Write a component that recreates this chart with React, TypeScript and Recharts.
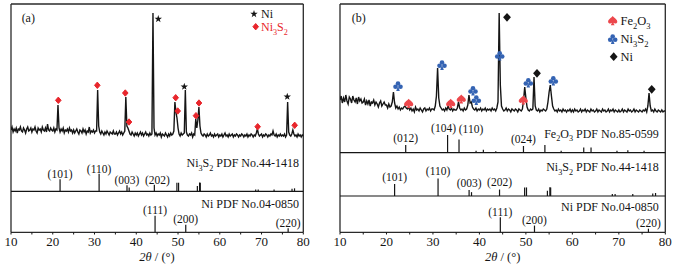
import React from 'react';
import { ComposedChart, Line, Scatter, XAxis, YAxis, ReferenceLine } from 'recharts';

const FONT = '"Liberation Serif", "Times New Roman", serif';
const INK = '#151515';
const RED_A = '#e8262c';
const RED_B = '#ec474c';
const BLUE = '#3463b3';

// measured patterns, intensity (a.u.) every 0.25° of 2θ from 10° to 80°
const ANGLE_START = 10;
const ANGLE_STEP = 0.25;

const patternA = [
  10, 13, 8, 11, 9, 12, 7, 11, 10, 13, 9, 8, 12, 10, 7, 11, 13, 9, 10, 12, // 10°
  8, 11, 10, 13, 9, 7, 12, 10, 11, 8, 13, 10, 9, 12, 8, 16, 10, 9, 12, 10, // 15°
  9, 12, 8, 11, 10, 35, 12, 8, 11, 9, 12, 7, 10, 9, 11, 8, 12, 9, 10, 7, // 20°
  10, 7, 9, 11, 8, 6, 10, 9, 7, 11, 8, 10, 6, 9, 8, 13, 7, 9, 8, 10, // 25°
  7, 9, 9, 50, 14, 8, 6, 9, 7, 5, 8, 6, 9, 7, 5, 8, 7, 6, 9, 6, // 30°
  6, 8, 5, 7, 9, 6, 8, 5, 7, 9, 43, 14, 12, 9, 6, 5, 8, 6, 4, 7, // 35°
  5, 7, 4, 6, 8, 5, 7, 4, 6, 8, 5, 6, 4, 7, 5, 6, 127, 12, 5, 7, // 40°
  4, 6, 5, 7, 3, 6, 5, 4, 7, 5, 3, 6, 4, 7, 5, 6, 9, 38, 28, 22, // 45°
  12, 6, 4, 7, 5, 6, 7, 50, 8, 5, 4, 6, 5, 7, 3, 6, 5, 21, 12, 20, // 50°
  33, 14, 7, 5, 4, 6, 5, 3, 6, 4, 5, 7, 4, 5, 3, 6, 4, 5, 6, 3, // 55°
  5, 4, 6, 3, 5, 7, 4, 5, 3, 6, 4, 5, 6, 3, 5, 4, 6, 5, 3, 5, // 60°
  4, 6, 5, 3, 5, 4, 6, 3, 5, 4, 6, 5, 3, 5, 4, 7, 11, 6, 4, 5, // 65°
  6, 3, 5, 4, 6, 5, 3, 5, 4, 6, 5, 9, 5, 4, 6, 3, 5, 4, 6, 4, // 70°
  5, 4, 6, 3, 5, 38, 8, 5, 4, 6, 10, 6, 4, 5, 3, 6, 4, 5, 3, 5, // 75°
  4, // 80°
];

const patternB = [
  20, 24, 17, 22, 18, 25, 19, 16, 23, 21, 17, 24, 20, 18, 22, 16, 23, 19, 21, 17, // 10°
  18, 21, 15, 19, 16, 20, 14, 18, 17, 20, 15, 18, 16, 13, 17, 19, 14, 16, 18, 15, // 15°
  15, 12, 16, 13, 14, 18, 28, 17, 12, 14, 11, 13, 10, 12, 11, 13, 14, 12, 11, 13, // 20°
  10, 12, 9, 11, 8, 13, 10, 11, 9, 12, 10, 8, 11, 12, 9, 11, 10, 12, 9, 11, // 25°
  11, 10, 14, 24, 52, 22, 14, 12, 10, 11, 9, 12, 10, 14, 11, 10, 12, 9, 11, 10, // 30°
  10, 12, 18, 12, 10, 11, 9, 12, 10, 11, 15, 25, 17, 18, 13, 11, 10, 12, 9, 11, // 35°
  10, 12, 9, 11, 10, 12, 9, 11, 10, 11, 9, 12, 10, 11, 9, 12, 18, 107, 35, 14, // 40°
  11, 9, 10, 12, 9, 11, 10, 8, 11, 10, 9, 11, 10, 8, 11, 10, 9, 11, 20, 33, // 45°
  22, 13, 10, 9, 11, 10, 11, 43, 14, 10, 9, 11, 8, 10, 9, 11, 10, 9, 11, 18, // 50°
  28, 35, 24, 14, 11, 9, 10, 8, 11, 9, 10, 8, 11, 9, 10, 8, 10, 9, 11, 8, // 55°
  10, 8, 11, 9, 10, 8, 9, 11, 8, 10, 9, 11, 8, 10, 9, 8, 11, 9, 10, 8, // 60°
  9, 11, 8, 10, 9, 8, 11, 9, 10, 8, 9, 11, 8, 10, 9, 11, 8, 10, 9, 8, // 65°
  10, 8, 9, 11, 8, 10, 9, 8, 11, 9, 10, 8, 9, 11, 8, 10, 9, 8, 10, 9, // 70°
  8, 10, 9, 11, 8, 14, 27, 14, 9, 10, 8, 11, 9, 8, 10, 9, 8, 10, 8, 9, // 75°
  9, // 80°
];

// standard cards: [2θ (°), I/I0 (%)]
const ni3s2Card = [
  [21.75, 69], [31.1, 100], [37.78, 34], [38.3, 22], [44.33, 37], [49.73, 49],
  [50.13, 49], [54.63, 30], [55.16, 50], [55.33, 49], [68.6, 11], [69.2, 11],
  [73.0, 11], [77.3, 14], [77.9, 17],
];
const fe2o3Card = [
  [24.14, 43], [33.15, 100], [35.61, 75], [39.28, 11], [40.85, 17], [43.52, 8],
  [49.48, 38], [54.09, 43], [57.59, 11], [62.45, 30], [64.02, 30], [69.6, 11],
  [71.94, 14], [75.43, 11],
];
const niCard = [[44.5, 100], [51.85, 45], [76.37, 24]];

const ni3s2Hkl: [number, string][] = [[21.75, '(101)'], [31.1, '(110)'], [37.78, '(003)'], [44.33, '(202)']];
const fe2o3Hkl: [number, string][] = [[24.14, '(012)'], [33.15, '(104)'], [35.61, '(110)'], [49.48, '(024)']];
const niHkl: [number, string][] = [[44.5, '(111)'], [51.85, '(200)'], [76.37, '(220)']];

// phase markers: [2θ (°), intensity (a.u.)]
const niStarsA = [[45.27, 121], [51.5, 53.3], [76.16, 43.3]];
const ni3s2DiamondsA = [
  [21.33, 39.7], [30.67, 54.7], [37.37, 47], [38.26, 18], [49.44, 42.3],
  [49.92, 29], [54.3, 24.3], [55.02, 37], [69.07, 13.3], [77.94, 14.7],
];
const fe2o3SpadesB = [[24.78, 16.7], [33.82, 16.7], [36.1, 21], [49.45, 20]];
const ni3s2ClubsB = [[22.48, 34], [31.95, 55], [38.62, 29.3], [39.33, 20], [44.37, 64.3], [50.52, 37.3], [55.9, 39.3]];
const niDiamondsB = [[45.94, 102.7], [52.39, 46.7], [77.08, 30.7]];

const xTicks = [10, 15, 20, 25, 30, 35, 40, 45, 50, 55, 60, 65, 70, 75, 80];

const PLOT_H = 228.3;

function Glyph({ kind, x, y, color }: { kind: string; x: number; y: number; color: string }) {
  const t = `translate(${x},${y})`;
  if (kind === 'star') {
    const pts: string[] = [];
    for (let k = 0; k < 10; k++) {
      const r = k % 2 ? 1.55 : 3.9;
      const a = -Math.PI / 2 + (k * Math.PI) / 5;
      pts.push(`${(r * Math.cos(a)).toFixed(2)},${(r * Math.sin(a)).toFixed(2)}`);
    }
    return <polygon transform={t} points={pts.join(' ')} fill={color} />;
  }
  if (kind === 'diamond') {
    return <polygon transform={t} points="0,-3.2 2.8,0 0,3.2 -2.8,0" fill={color} stroke={color} strokeWidth={1} strokeLinejoin="round" />;
  }
  if (kind === 'bigDiamond') {
    return <polygon transform={t} points="0,-4.4 3.9,0 0,4.4 -3.9,0" fill={color} />;
  }
  if (kind === 'spade') {
    return (
      <path
        transform={t}
        d="M0,-4.6 C1.6,-2.6 4.6,-1.2 4.6,1.1 C4.6,3 2.1,3.5 0.7,2.1 L1.9,4.6 L-1.9,4.6 L-0.7,2.1 C-2.1,3.5 -4.6,3 -4.6,1.1 C-4.6,-1.2 -1.6,-2.6 0,-4.6 Z"
        fill={color}
      />
    );
  }
  return (
    <g transform={t} fill={color}>
      <circle cx={0} cy={-2.5} r={2.3} />
      <circle cx={-2.5} cy={0.8} r={2.3} />
      <circle cx={2.5} cy={0.8} r={2.3} />
      <path d="M0,0 L1.8,4.9 L-1.8,4.9 Z" />
    </g>
  );
}

function AxisTick(props: any) {
  const { x, y, payload } = props;
  const major = payload.value % 10 === 0;
  return (
    <g>
      <line x1={x} x2={x} y1={y} y2={y + 2.2} stroke={INK} strokeWidth={1} />
      {major && (
        <text x={x} y={y + 14} textAnchor="middle" fontSize={13} fontFamily={FONT} fill={INK}>
          {payload.value}
        </text>
      )}
    </g>
  );
}

function Chem({ x, y, formula, rest = '', size, anchor = 'start', fill = INK }: any) {
  const tokens: string[] = formula.match(/[A-Za-z]+|\d+/g) ?? [];
  const sh = size * 0.28;
  let low = false;
  const spans = tokens.map((tk, i) => {
    if (/\d/.test(tk)) {
      const el = <tspan key={i} dy={low ? 0 : sh} fontSize={size * 0.68}>{tk}</tspan>;
      low = true;
      return el;
    }
    const el = <tspan key={i} dy={low ? -sh : 0}>{tk}</tspan>;
    low = false;
    return el;
  });
  return (
    <text x={x} y={y} fontSize={size} fontFamily={FONT} fill={fill} textAnchor={anchor}>
      {spans}
      {rest && <tspan dy={low ? -sh : 0}>{rest}</tspan>}
    </text>
  );
}

type CardLayout = {
  peaks: number[][];
  hkl: [number, string][];
  base: number;
  scale: number;
  gap: number;
  nudge?: Record<string, number[]>;
};
type MarkerSet = { points: number[][]; kind: string; color: string };

function Panel({ width, margin, pattern, offset, cards, markers }: {
  width: number;
  margin: any;
  pattern: number[];
  offset: number;
  cards: CardLayout[];
  markers: MarkerSet[];
}) {
  const trace = pattern.map((v, i) => ({ x: ANGLE_START + i * ANGLE_STEP, y: offset + v }));
  const frame = { stroke: '#2a2a2a', strokeWidth: 1.3 };

  return (
    <ComposedChart width={width} height={269} margin={margin}>
      <XAxis
        type="number"
        dataKey="x"
        domain={[10, 80]}
        ticks={xTicks}
        interval={0}
        tick={(p: any) => <AxisTick {...p} />}
        tickLine={false}
        tickSize={0}
        tickMargin={0}
        axisLine={frame}
        height={36.7}
        allowDataOverflow
      />
      <YAxis type="number" dataKey="y" domain={[0, PLOT_H]} hide width={0} allowDataOverflow />
      <ReferenceLine x={10} {...frame} />
      <ReferenceLine x={80} {...frame} />
      <ReferenceLine y={PLOT_H} {...frame} />
      {cards
        .filter((c) => c.base > 0)
        .map((c, ci) => (
          <ReferenceLine key={`base${ci}`} y={c.base} stroke={INK} strokeWidth={1.2} />
        ))}
      {cards.flatMap((c, ci) =>
        c.peaks.map(([a, h], i) => (
          <ReferenceLine
            key={`stick${ci}-${i}`}
            segment={[{ x: a, y: c.base }, { x: a, y: c.base + h * c.scale }]}
            stroke={INK}
            strokeWidth={1.2}
          />
        )),
      )}
      <Line
        data={trace}
        dataKey="y"
        type="linear"
        dot={false}
        activeDot={false}
        stroke={INK}
        strokeWidth={1.4}
        isAnimationActive={false}
      />
      {markers.map((m, mi) => (
        <Scatter
          key={`mk${mi}`}
          data={m.points.map(([a, v]) => ({ x: a, y: offset + v }))}
          isAnimationActive={false}
          shape={(p: any) => <Glyph kind={m.kind} x={p.cx} y={p.cy} color={m.color} />}
        />
      ))}
      {cards.map((c, ci) => {
        const pts = c.hkl.map(([a, text]) => {
          const h = (c.peaks.find((p) => p[0] === a) ?? [a, 0])[1];
          const n = (c.nudge && c.nudge[text]) || [0, 0];
          return { x: a, y: c.base + h * c.scale + c.gap + n[1], dx: n[0], text };
        });
        return (
          <Scatter
            key={`hkl${ci}`}
            data={pts}
            isAnimationActive={false}
            shape={(p: any) => (
              <text
                x={p.cx + p.payload.dx}
                y={p.cy}
                dy="0.36em"
                textAnchor="middle"
                fontSize={11.5}
                fontFamily={FONT}
                fill={INK}
              >
                {p.payload.text}
              </text>
            )}
          />
        );
      })}
    </ComposedChart>
  );
}

function AxisTitle({ x }: { x: number }) {
  return (
    <text x={x} y={260.5} textAnchor="middle" fontSize={12.5} fontFamily={FONT} fill={INK}>
      <tspan fontStyle="italic">2θ</tspan> / (°)
    </text>
  );
}

export default function App() {
  return (
    <div style={{ position: 'absolute', left: 0, top: 0, width: 677, height: 269, background: '#fff' }}>
      <div style={{ position: 'absolute', left: 0, top: 0 }}>
        <Panel
          width={320}
          margin={{ top: 4, right: 16.7, left: 11, bottom: 0 }}
          pattern={patternA}
          offset={92.3}
          cards={[
            { peaks: ni3s2Card, hkl: ni3s2Hkl, base: 41, scale: 0.175, gap: 5.3, nudge: { '(202)': [3, 0] } },
            { peaks: niCard, hkl: niHkl, base: 0, scale: 0.166, gap: 5.5 },
          ]}
          markers={[
            { points: niStarsA, kind: 'star', color: INK },
            { points: ni3s2DiamondsA, kind: 'diamond', color: RED_A },
          ]}
        />
      </div>
      <div style={{ position: 'absolute', left: 320, top: 0 }}>
        <Panel
          width={357}
          margin={{ top: 4, right: 11.7, left: 20, bottom: 0 }}
          pattern={patternB}
          offset={112.3}
          cards={[
            {
              peaks: fe2o3Card,
              hkl: fe2o3Hkl,
              base: 79.6,
              scale: 0.177,
              gap: 7.5,
              nudge: { '(104)': [-4, 0], '(110)': [12, 2.7] },
            },
            { peaks: ni3s2Card, hkl: ni3s2Hkl, base: 36.3, scale: 0.175, gap: 7.2 },
            { peaks: niCard, hkl: niHkl, base: 0, scale: 0.15, gap: 5.5 },
          ]}
          markers={[
            { points: fe2o3SpadesB, kind: 'spade', color: RED_B },
            { points: ni3s2ClubsB, kind: 'club', color: BLUE },
            { points: niDiamondsB, kind: 'bigDiamond', color: INK },
          ]}
        />
      </div>
      <svg
        width={677}
        height={269}
        style={{ position: 'absolute', left: 0, top: 0, pointerEvents: 'none' }}
      >
        {/* panel (a) */}
        <text x={28.3} y={22.1} textAnchor="middle" fontSize={12} fontFamily={FONT} fill={INK}>(a)</text>
        <Glyph kind="star" x={254} y={14} color={INK} />
        <text x={261} y={18} fontSize={12} fontFamily={FONT} fill={INK}>Ni</text>
        <Glyph kind="diamond" x={255.7} y={26.7} color={RED_A} />
        <Chem x={261} y={31.3} formula="Ni3S2" size={12} fill={RED_A} />
        <Chem x={299} y={167.3} formula="Ni3S2" rest=" PDF No.44-1418" size={12} anchor="end" />
        <text x={299} y={208} textAnchor="end" fontSize={12} fontFamily={FONT} fill={INK}>Ni PDF No.04-0850</text>
        <AxisTitle x={157} />

        {/* panel (b) */}
        <text x={358.7} y={22.1} textAnchor="middle" fontSize={12} fontFamily={FONT} fill={INK}>(b)</text>
        <Glyph kind="spade" x={612.7} y={20.7} color={RED_B} />
        <Chem x={620.5} y={25} formula="Fe2O3" size={12.5} />
        <Glyph kind="club" x={612.7} y={39} color={BLUE} />
        <Chem x={620.5} y={43.3} formula="Ni3S2" size={12.5} />
        <Glyph kind="bigDiamond" x={613.7} y={56.7} color={INK} />
        <text x={620.5} y={61} fontSize={12.5} fontFamily={FONT} fill={INK}>Ni</text>
        <Chem x={658.7} y={138} formula="Fe2O3" rest=" PDF No.85-0599" size={12} anchor="end" />
        <Chem x={658.7} y={171.3} formula="Ni3S2" rest=" PDF No.44-1418" size={12} anchor="end" />
        <text x={658.7} y={211.3} textAnchor="end" fontSize={12} fontFamily={FONT} fill={INK}>Ni PDF No.04-0850</text>
        <AxisTitle x={502.7} />
      </svg>
    </div>
  );
}
